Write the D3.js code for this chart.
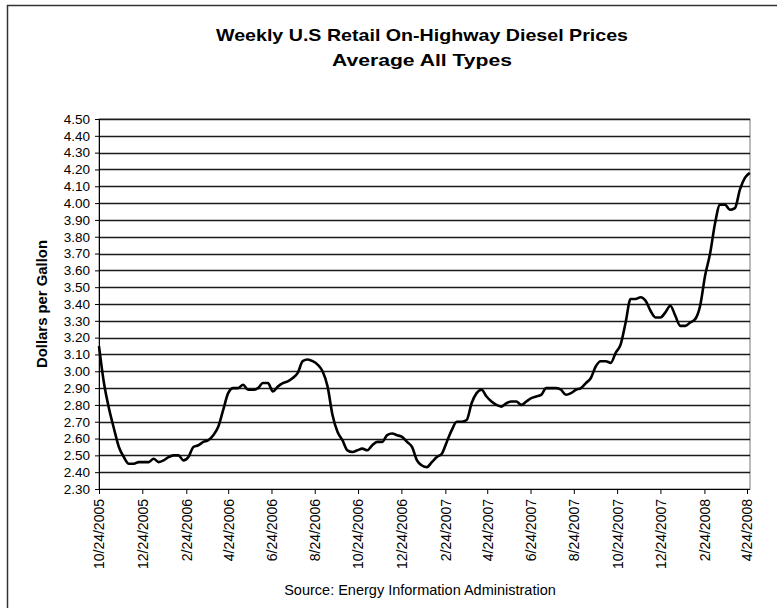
<!DOCTYPE html>
<html>
<head>
<meta charset="utf-8">
<script src="https://cdnjs.cloudflare.com/ajax/libs/d3/7.8.5/d3.min.js"></script>
<style>
  body { margin: 0; background: #fff; }
  text { font-family: "Liberation Sans", Arial, sans-serif; fill: #000; }
  .title { font-size: 17px; font-weight: bold; }
  .axisC text { font-size: 13.5px; }
  .axisC path, .axisC line { stroke: #000; }
</style>
</head>
<body>
<script>
// Data: weekly prices starting 10/24/2005
var firstWeek = "10/24/2005";
var prices = [
  3.15, 2.93, 2.78, 2.66, 2.55, 2.49, 2.45, 2.45, 2.46, 2.46,
  2.46, 2.48, 2.46, 2.47, 2.49, 2.50, 2.50, 2.47, 2.49, 2.55,
  2.56, 2.58, 2.59, 2.62, 2.67, 2.77, 2.87, 2.90, 2.90, 2.92,
  2.89, 2.89, 2.90, 2.93, 2.93, 2.88, 2.91, 2.93, 2.94, 2.96,
  2.99, 3.06, 3.07, 3.06, 3.04, 3.00, 2.91, 2.74, 2.64, 2.59,
  2.53, 2.52, 2.53, 2.54, 2.53, 2.56, 2.58, 2.58, 2.62, 2.63,
  2.62, 2.61, 2.58, 2.55, 2.47, 2.44, 2.43, 2.46, 2.49, 2.51,
  2.58, 2.65, 2.70, 2.70, 2.71, 2.81, 2.87, 2.89, 2.85, 2.82,
  2.80, 2.79, 2.81, 2.82, 2.82, 2.80, 2.82, 2.84, 2.85, 2.86,
  2.90, 2.90, 2.90, 2.89, 2.86, 2.87, 2.89, 2.90, 2.93, 2.96,
  3.03, 3.06, 3.06, 3.05, 3.11, 3.16, 3.29, 3.43, 3.43, 3.44,
  3.42, 3.36, 3.32, 3.32, 3.35, 3.39, 3.33, 3.27, 3.27, 3.29,
  3.31, 3.39, 3.57, 3.70, 3.88, 3.99, 3.99, 3.96, 3.97, 4.08,
  4.15, 4.18
];
var xTickLabels = ["10/24/2005", "12/24/2005", "2/24/2006", "4/24/2006", "6/24/2006",
  "8/24/2006", "10/24/2006", "12/24/2006", "2/24/2007", "4/24/2007", "6/24/2007",
  "8/24/2007", "10/24/2007", "12/24/2007", "2/24/2008", "4/24/2008"];
var yTicks = [2.30, 2.40, 2.50, 2.60, 2.70, 2.80, 2.90, 3.00, 3.10, 3.20, 3.30,
  3.40, 3.50, 3.60, 3.70, 3.80, 3.90, 4.00, 4.10, 4.20, 4.30, 4.40, 4.50];
var titleLines = ["Weekly U.S Retail On-Highway Diesel Prices", "Average All Types"];
var yLabel = "Dollars per Gallon";
var sourceText = "Source:  Energy Information Administration";

var svgWidth = 777;
var svgHeight = 608;

var plot = { left: 99, top: 119, right: 750, bottom: 489 };

var parseDate = d3.timeParse("%m/%d/%Y");
var start = parseDate(firstWeek);
var data = prices.map(function (p, i) {
  return { date: d3.timeDay.offset(start, 7 * i), price: p };
});
var tickDates = xTickLabels.map(parseDate);

var svg = d3.select("body")
  .append("svg")
  .attr("width", svgWidth)
  .attr("height", svgHeight);

// outer chart border (only left and top edges are in frame)
svg.append("rect")
  .attr("x", 7.5).attr("y", 5.5)
  .attr("width", 820).attr("height", 700)
  .attr("fill", "none")
  .attr("stroke", "#333")
  .attr("stroke-width", 1.5);

var xScale = d3.scaleTime()
  .domain([tickDates[0], tickDates[tickDates.length - 1]])
  .range([plot.left, 747]);

var yScale = d3.scaleLinear()
  .domain([2.30, 4.50])
  .range([plot.bottom, plot.top]);

// plot area border
svg.append("rect")
  .attr("x", plot.left).attr("y", plot.top)
  .attr("width", plot.right - plot.left)
  .attr("height", plot.bottom - plot.top)
  .attr("fill", "none")
  .attr("stroke", "#777")
  .attr("stroke-width", 1);

// horizontal gridlines
svg.append("g")
  .selectAll("line")
  .data(yTicks.slice(1))
  .enter().append("line")
  .attr("x1", plot.left)
  .attr("x2", plot.right)
  .attr("y1", function (d) { return Math.round(yScale(d)) + 0.5; })
  .attr("y2", function (d) { return Math.round(yScale(d)) + 0.5; })
  .attr("stroke", "#1a1a1a")
  .attr("stroke-width", 1.3);

// y axis
var leftAxis = d3.axisLeft(yScale)
  .tickValues(yTicks)
  .tickFormat(d3.format(".2f"))
  .tickSizeInner(4)
  .tickSizeOuter(0)
  .tickPadding(5);

svg.append("g")
  .attr("class", "axisC")
  .attr("transform", "translate(" + plot.left + ",0)")
  .call(leftAxis);

// x axis
var bottomAxis = d3.axisBottom(xScale)
  .tickValues(tickDates)
  .tickFormat(function (d, i) { return xTickLabels[i]; })
  .tickSizeInner(5)
  .tickSizeOuter(0);

var xAxis = svg.append("g")
  .attr("class", "axisC")
  .attr("transform", "translate(0," + plot.bottom + ")")
  .call(bottomAxis);

xAxis.select(".domain").attr("d", "M" + plot.left + ",0.5H" + plot.right);

xAxis.selectAll("text")
  .style("font-size", "14px")
  .attr("transform", "rotate(-90)")
  .attr("text-anchor", "end")
  .attr("x", -10)
  .attr("y", 0)
  .attr("dy", "0.35em");

// price line
var line = d3.line()
  .x(function (d) { return xScale(d.date); })
  .y(function (d) { return yScale(d.price); })
  .curve(d3.curveMonotoneX);

svg.append("path")
  .datum(data)
  .attr("d", line)
  .attr("fill", "none")
  .attr("stroke", "#000")
  .attr("stroke-width", 2.6)
  .attr("stroke-linejoin", "round");

// title
svg.append("text")
  .attr("class", "title")
  .attr("x", 422)
  .attr("y", 41)
  .attr("text-anchor", "middle")
  .attr("textLength", 412)
  .attr("lengthAdjust", "spacingAndGlyphs")
  .text(titleLines[0]);

svg.append("text")
  .attr("class", "title")
  .attr("x", 422)
  .attr("y", 66)
  .attr("text-anchor", "middle")
  .attr("textLength", 180)
  .attr("lengthAdjust", "spacingAndGlyphs")
  .text(titleLines[1]);

// y label
svg.append("text")
  .attr("transform", "translate(47," + ((plot.top + plot.bottom) / 2) + ") rotate(-90)")
  .attr("text-anchor", "middle")
  .style("font-size", "14px")
  .style("font-weight", "bold")
  .attr("textLength", 128)
  .attr("lengthAdjust", "spacingAndGlyphs")
  .text(yLabel);

// source note
svg.append("text")
  .attr("x", 420)
  .attr("y", 595)
  .attr("text-anchor", "middle")
  .style("font-size", "14.5px")
  .text(sourceText);
</script>
</body>
</html>
